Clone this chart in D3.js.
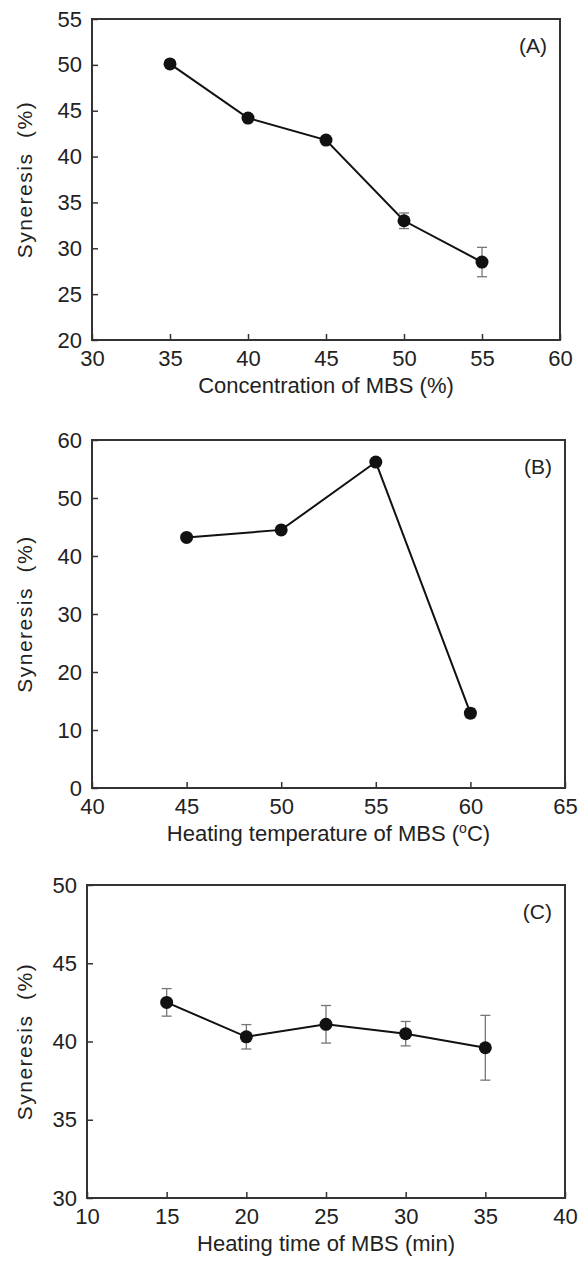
<!DOCTYPE html>
<html>
<head>
<meta charset="utf-8">
<script src="https://cdn.jsdelivr.net/npm/d3@7"></script>
<style>
  body { margin: 0; background: #fff; }
  svg text { font-family: "Liberation Sans", Arial, Helvetica, sans-serif; fill: #222; }
</style>
</head>
<body>
<svg id="chart" width="580" height="1269"></svg>
<script>
// (A) concentration of MBS
const concA = [35, 40, 45, 50, 55];
const synA = [50.1, 44.2, 41.8, 33.0, 28.5];
const errA = [0.3, 0.3, 0.3, 0.85, 1.6];
const xTicksA = [30, 35, 40, 45, 50, 55, 60];
const yTicksA = [20, 25, 30, 35, 40, 45, 50, 55];

// (B) heating temperature of MBS
const tempB = [45, 50, 55, 60];
const synB = [43.2, 44.5, 56.2, 12.9];
const errB = [0.4, 0.5, 0.6, 0.8];
const xTicksB = [40, 45, 50, 55, 60, 65];
const yTicksB = [0, 10, 20, 30, 40, 50, 60];

// (C) heating time of MBS
const timeC = [15, 20, 25, 30, 35];
const synC = [42.5, 40.3, 41.1, 40.5, 39.6];
const errC = [0.88, 0.78, 1.2, 0.78, 2.07];
const xTicksC = [10, 15, 20, 25, 30, 35, 40];
const yTicksC = [30, 35, 40, 45, 50];

const panels = [
  { tag: '(A)', x: concA, y: synA, err: errA, xt: xTicksA, yt: yTicksA,
    title: 'Concentration of MBS (%)', box: [92, 19, 560, 340] },
  { tag: '(B)', x: tempB, y: synB, err: errB, xt: xTicksB, yt: yTicksB,
    title: 'Heating temperature of MBS (', box: [92, 440, 565, 788], degree: true },
  { tag: '(C)', x: timeC, y: synC, err: errC, xt: xTicksC, yt: yTicksC,
    title: 'Heating time of MBS (min)', box: [87, 885, 565, 1198] }
];

const svg = d3.select('#chart');

panels.forEach(p => drawPanel(p));

function drawPanel(p) {
  const [l, t, r, b] = p.box;
  const xs = d3.scaleLinear().domain(d3.extent(p.xt)).range([l, r]);
  const ys = d3.scaleLinear().domain(d3.extent(p.yt)).range([b, t]);
  const g = svg.append('g');

  // axes, ticks pointing inward
  const xAxis = g.append('g')
    .attr('transform', `translate(0,${b})`)
    .call(d3.axisBottom(xs).tickValues(p.xt).tickSize(-6).tickPadding(10).tickFormat(d3.format('d')));
  const yAxis = g.append('g')
    .attr('transform', `translate(${l},0)`)
    .call(d3.axisLeft(ys).tickValues(p.yt).tickSize(-6).tickPadding(10).tickFormat(d3.format('d')));
  [xAxis, yAxis].forEach(a => {
    a.select('.domain').remove();
    a.selectAll('line').attr('stroke', '#333').attr('stroke-width', 1.5);
    a.selectAll('text').style('font-size', '22px').attr('fill', '#222');
  });

  // frame
  g.append('rect')
    .attr('x', l).attr('y', t)
    .attr('width', r - l).attr('height', b - t)
    .attr('fill', 'none').attr('stroke', '#333').attr('stroke-width', 2);

  const pts = p.x.map((v, i) => ({ x: v, y: p.y[i], e: p.err[i] }));

  // error bars
  const eb = g.selectAll('.err').data(pts).enter().append('g')
    .attr('stroke', '#777').attr('stroke-width', 1.3);
  eb.append('line')
    .attr('x1', d => xs(d.x)).attr('x2', d => xs(d.x))
    .attr('y1', d => ys(d.y - d.e)).attr('y2', d => ys(d.y + d.e));
  eb.append('line')
    .attr('x1', d => xs(d.x) - 5).attr('x2', d => xs(d.x) + 5)
    .attr('y1', d => ys(d.y + d.e)).attr('y2', d => ys(d.y + d.e));
  eb.append('line')
    .attr('x1', d => xs(d.x) - 5).attr('x2', d => xs(d.x) + 5)
    .attr('y1', d => ys(d.y - d.e)).attr('y2', d => ys(d.y - d.e));

  // line + markers
  g.append('path')
    .datum(pts)
    .attr('fill', 'none').attr('stroke', '#111').attr('stroke-width', 2)
    .attr('d', d3.line().x(d => xs(d.x)).y(d => ys(d.y)));
  g.selectAll('.dot').data(pts).enter().append('circle')
    .attr('cx', d => xs(d.x)).attr('cy', d => ys(d.y))
    .attr('r', 6.5).attr('fill', '#111');

  // panel tag
  g.append('text')
    .attr('x', r - 13).attr('y', t + 34)
    .attr('text-anchor', 'end')
    .style('font-size', '21px')
    .text(p.tag);

  // x title
  const xt = g.append('text')
    .attr('x', (l + r) / 2).attr('y', b + 53)
    .attr('text-anchor', 'middle')
    .style('font-size', '22px')
    .text(p.title);
  if (p.degree) {
    xt.append('tspan').attr('dy', -8).style('font-size', '14px').text('o');
    xt.append('tspan').attr('dy', 8).text('C)');
  }

  // y title
  g.append('text')
    .attr('transform', `translate(32,${(t + b) / 2}) rotate(-90)`)
    .attr('text-anchor', 'middle')
    .style('font-size', '21px')
    .style('letter-spacing', '1.5px')
    .style('white-space', 'pre')
    .text('Syneresis  (%)');
}
</script>
</body>
</html>
